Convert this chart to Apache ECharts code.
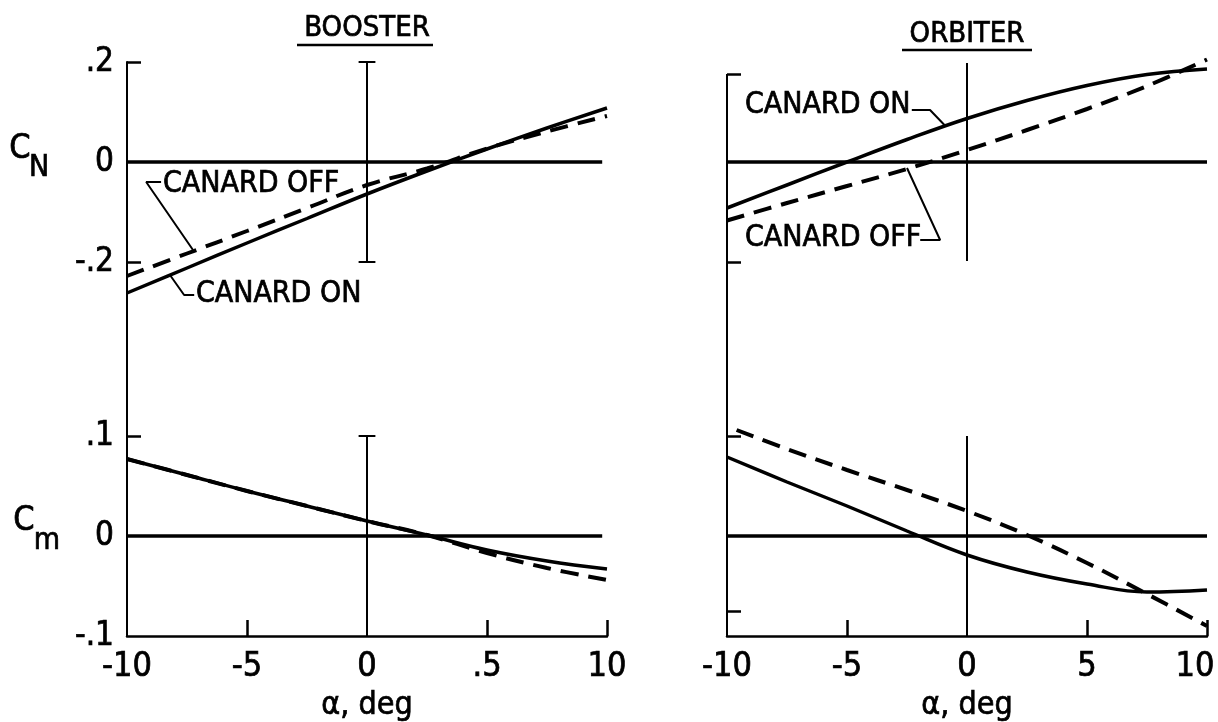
<!DOCTYPE html>
<html>
<head>
<meta charset="utf-8">
<script src="https://cdn.jsdelivr.net/npm/echarts@6/dist/echarts.min.js"></script>
<style>
html,body{margin:0;padding:0;background:#fff;}
#chart{width:1218px;height:722px;}
</style>
</head>
<body>
<div id="chart"></div>
<script>
// ---------- data ----------
const alpha = [-10, -7.5, -5, -2.5, 0, 2.5, 5, 7.5, 10];

const boosterCNOn  = [-0.262, -0.212, -0.162, -0.113, -0.064, -0.018, 0.026, 0.068, 0.108];
const boosterCNOff = [-0.228, -0.183, -0.138, -0.092, -0.046, -0.013, 0.027, 0.061, 0.092];
const boosterCmOn  = [0.077, 0.061, 0.045, 0.030, 0.015, 0.001, -0.014, -0.025, -0.033];
const boosterCmOff = [0.077, 0.061, 0.045, 0.030, 0.015, 0.001, -0.017, -0.032, -0.044];

const orbiterCNOn  = [-0.092, -0.046, 0.000, 0.045, 0.087, 0.123, 0.153, 0.175, 0.186];
const orbiterCNOff = [-0.117, -0.082, -0.048, -0.014, 0.024, 0.064, 0.106, 0.152, 0.205];
const orbiterCmOn  = [0.079, 0.054, 0.030, 0.005, -0.019, -0.036, -0.048, -0.056, -0.054];
const orbiterCmOffAlpha = [-9.6, -7.5, -5, -2.5, 0, 2.5, 5, 7.5, 10];
const orbiterCmOff = [0.106, 0.087, 0.066, 0.046, 0.025, 0.001, -0.027, -0.058, -0.090];

// tick labels
const xTickValues = [-10, -5, 0, 5, 10];
const boosterXLabels = ['-10', '-5', '0', '.5', '10'];
const orbiterXLabels = ['-10', '-5', '0', '5', '10'];
const cnTickValues = [0.2, 0, -0.2];
const cnTickLabels = ['.2', '0', '-.2'];
const cmTickValues = [0.1, 0, -0.1];
const cmTickLabels = ['.1', '0', '-.1'];

// annotations (data coordinates)
const boosterNotes = [
  { text: 'CANARD OFF', at: [-8.5, -0.044], leader: [[-8.58, -0.040], [-9.2, -0.040], [-7.25, -0.176]] },
  { text: 'CANARD ON',  at: [-7.13, -0.264], leader: [[-8.21, -0.226], [-7.62, -0.266], [-7.2, -0.266]] }
];
const orbiterNotes = [
  { text: 'CANARD ON',  at: [-9.25, 0.114], leader: [[-2.3, 0.104], [-1.54, 0.104], [-0.9, 0.072]] },
  { text: 'CANARD OFF', at: [-9.25, -0.152], leader: [[-1.95, -0.156], [-1.12, -0.156], [-2.5, -0.012]] }
];

// ---------- chart ----------
const FONT = '"DejaVu Sans Condensed","Liberation Sans Narrow","Open Sans",sans-serif';
const BLACK = '#000';
const THICK = { textBorderColor: '#000', textBorderWidth: 0.7 };
const zip = (xs, ys) => xs.map((x, i) => [x, ys[i]]);
const fmt = (vals, labs, lastShift) => v => {
  const i = vals.findIndex(t => Math.abs(t - v) < 1e-9);
  if (i < 0) return '';
  if (lastShift && i === vals.length - 1) return '{e|' + labs[i] + '}';
  return labs[i];
};

const gridBase = { outerBoundsMode: 'none', containLabel: false };
const grids = [
  Object.assign({ left: 127, top: 62,  width: 480, height: 274 }, gridBase),
  Object.assign({ left: 127, top: 336, width: 480, height: 300 }, gridBase),
  Object.assign({ left: 727, top: 62,  width: 480, height: 274 }, gridBase),
  Object.assign({ left: 727, top: 336, width: 480, height: 300 }, gridBase)
];

function xAxisTop(g) {
  return { gridIndex: g, type: 'value', min: -10, max: 10, show: false };
}
function xAxisBottom(g, labels, lastShift) {
  return {
    gridIndex: g, type: 'value', min: -10, max: 10,
    axisLine: { onZero: false, lineStyle: { color: BLACK, width: 2.5 } },
    axisTick: { customValues: [-5, 5, 10], inside: true, length: 16, lineStyle: { color: BLACK, width: 2.5 } },
    axisLabel: Object.assign({ customValues: xTickValues, formatter: fmt(xTickValues, labels, lastShift), color: BLACK,
                 fontSize: 34, fontFamily: FONT, margin: 14,
                 rich: { e: Object.assign({ fontSize: 34, fontFamily: FONT, color: BLACK, padding: [0, 24, 0, 0] }, THICK) } }, THICK),
    splitLine: { show: false },
    name: 'α, deg', nameLocation: 'middle', nameGap: 54,
    nameTextStyle: Object.assign({ color: BLACK, fontSize: 32, fontFamily: FONT }, THICK)
  };
}
function yAxis(g, min, max, ticks, lvals, llabs, showLine) {
  return {
    gridIndex: g, type: 'value', min: min, max: max,
    axisLine: { show: showLine, onZero: false, lineStyle: { color: BLACK, width: 2 } },
    axisTick: { customValues: ticks, inside: true, length: 14, lineStyle: { color: BLACK, width: 2.5 } },
    axisLabel: lvals ? Object.assign({ customValues: lvals, formatter: fmt(lvals, llabs), color: BLACK,
                         fontSize: 33, fontFamily: FONT, margin: 13 }, THICK) : { show: false },
    splitLine: { show: false }
  };
}

function curve(g, xs, ys, dashed) {
  return {
    type: 'line', xAxisIndex: g, yAxisIndex: g, data: zip(xs, ys),
    smooth: 0.4, symbol: 'none', silent: true, clip: false, z: 5,
    lineStyle: { color: BLACK, width: dashed ? 4 : 3.5, type: dashed ? [18, 10] : 'solid' }
  };
}
function frame(g, segs) {
  return {
    type: 'line', xAxisIndex: g, yAxisIndex: g, data: [], symbol: 'none', silent: true, clip: false,
    markLine: {
      silent: true, symbol: 'none', animation: false, label: { show: false },
      data: segs.map(s => [{ coord: s[0], lineStyle: { color: BLACK, width: s[2] || 2, type: 'solid' } }, { coord: s[1] }])
    }
  };
}
function notes(g, list) {
  const out = [{
    type: 'scatter', xAxisIndex: g, yAxisIndex: g, symbolSize: 0, silent: true, clip: false,
    itemStyle: { opacity: 1 },
    data: list.map(n => ({ name: n.text, value: n.at })),
    label: Object.assign({ show: true, position: 'right', distance: 0, formatter: '{b}', color: BLACK,
             opacity: 1, fontSize: 30, fontFamily: FONT }, THICK)
  }];
  list.forEach(n => out.push({
    type: 'line', xAxisIndex: g, yAxisIndex: g, data: n.leader, symbol: 'none', silent: true, clip: false,
    lineStyle: { color: BLACK, width: 2 }
  }));
  return out;
}

const series = [
  frame(0, [[[-10, 0], [9.8, 0], 3.5], [[0, 0.2], [0, -0.2]], [[-0.35, 0.2], [0.35, 0.2]], [[-0.35, -0.2], [0.35, -0.2]]]),
  frame(1, [[[-10, 0], [9.8, 0], 3.5], [[0, 0.1], [0, -0.1]], [[-0.35, 0.1], [0.35, 0.1]]]),
  frame(2, [[[-10, 0], [10, 0], 3.5], [[0, 0.198], [0, -0.198]], [[-10, 0.176], [-10, -0.348]]]),
  frame(3, [[[-10, 0], [10, 0], 3.5], [[0, 0.1], [0, -0.1]]]),
  curve(0, alpha, boosterCNOn, false),
  curve(0, alpha, boosterCNOff, true),
  curve(1, alpha, boosterCmOn, false),
  curve(1, alpha, boosterCmOff, true),
  curve(2, alpha, orbiterCNOn, false),
  curve(2, alpha, orbiterCNOff, true),
  curve(3, alpha, orbiterCmOn, false),
  curve(3, orbiterCmOffAlpha, orbiterCmOff, true),
  ...notes(0, boosterNotes),
  ...notes(2, orbiterNotes)
];

const txt = (x, y, s, size) => ({
  type: 'text', x: x, y: y, silent: true,
  style: Object.assign({ text: s, fontSize: size, fontFamily: FONT, fill: BLACK, align: 'center', verticalAlign: 'middle' },
                       { stroke: '#000', lineWidth: 0.7 })
});
const rule = (x1, x2, y) => ({
  type: 'line', silent: true, shape: { x1: x1, y1: y, x2: x2, y2: y }, style: { stroke: BLACK, lineWidth: 2.5 }
});

const option = {
  animation: false,
  backgroundColor: '#fff',
  grid: grids,
  xAxis: [xAxisTop(0), xAxisBottom(1, boosterXLabels, false), xAxisTop(2), xAxisBottom(3, orbiterXLabels, true)],
  yAxis: [
    yAxis(0, -0.348, 0.2, [0.2, -0.2], cnTickValues, cnTickLabels, true),
    yAxis(1, -0.1, 0.2, [0.1], cmTickValues, cmTickLabels, true),
    yAxis(2, -0.348, 0.2, [0.176, -0.2], null, null, false),
    yAxis(3, -0.1, 0.2, [0.1, -0.075], null, null, true)
  ],
  series: series,
  graphic: [
    txt(367, 28, 'BOOSTER', 29), rule(297, 433, 45),
    txt(967, 34, 'ORBITER', 29), rule(902, 1032, 50),
    txt(20, 149, 'C', 34), txt(39, 168, 'N', 30),
    txt(24, 521, 'C', 34), txt(47, 541, 'm', 30)
  ]
};

const chart = echarts.init(document.getElementById('chart'), null, { renderer: 'canvas' });
chart.setOption(option);
</script>
</body>
</html>
